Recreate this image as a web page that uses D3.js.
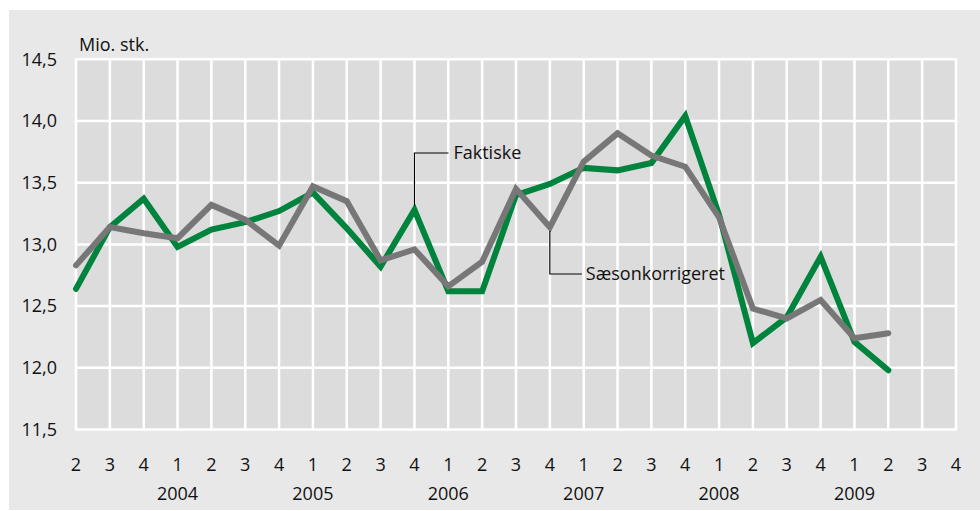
<!DOCTYPE html>
<html>
<head>
<meta charset="utf-8">
<script src="https://cdn.jsdelivr.net/npm/d3@7"></script>
<style>
  body { margin: 0; background: #fff; }
  svg text { font-family: "Open Sans", sans-serif; fill: #111; }
</style>
</head>
<body>
<svg id="chart"></svg>
<script>
const quarters = ["2","3","4","1","2","3","4","1","2","3","4","1","2","3","4","1","2","3","4","1","2","3","4","1","2","3","4"];
const years = ["2004","2005","2006","2007","2008","2009"];
const yTicks = [11.5, 12.0, 12.5, 13.0, 13.5, 14.0, 14.5];

const faktiske = [12.64, 13.14, 13.37, 12.98, 13.12, 13.18, 13.27, 13.42, 13.13, 12.82, 13.28, 12.62, 12.62,
  13.40, 13.49, 13.62, 13.60, 13.66, 14.04, 13.24, 12.20, 12.41, 12.90, 12.21, 11.98];
const saeson = [12.83, 13.14, 13.09, 13.05, 13.32, 13.20, 12.99, 13.47, 13.35, 12.87, 12.96, 12.66, 12.86,
  13.45, 13.14, 13.67, 13.90, 13.72, 13.63, 13.22, 12.48, 12.40, 12.55, 12.24, 12.28];

const width = 980, height = 511;
const fs = 18;
const svg = d3.select("#chart").attr("width", width).attr("height", height);

const x = d3.scaleLinear().domain([0, quarters.length - 1]).range([76, 956]);
const y = d3.scaleLinear().domain([11.5, 14.5]).range([429.5, 59.3]);

// panel background
svg.append("rect")
  .attr("x", 9).attr("y", 10)
  .attr("width", width - 9).attr("height", 500)
  .attr("fill", "#e8e8e8");

svg.append("rect")
  .attr("x", x(0)).attr("y", y(14.5))
  .attr("width", x(quarters.length - 1) - x(0))
  .attr("height", y(11.5) - y(14.5))
  .attr("fill", "#dcdcdc");

// grid
svg.append("g")
  .selectAll("line")
  .data(yTicks)
  .join("line")
  .attr("x1", x(0) - 1).attr("x2", x(quarters.length - 1) + 1)
  .attr("y1", d => y(d)).attr("y2", d => y(d))
  .attr("stroke", "#fff")
  .attr("stroke-width", 2.5);

svg.append("g")
  .selectAll("line")
  .data(d3.range(quarters.length))
  .join("line")
  .attr("x1", d => x(d)).attr("x2", d => x(d))
  .attr("y1", y(14.5)).attr("y2", y(11.5))
  .attr("stroke", "#fff")
  .attr("stroke-width", 2.5);

// y labels
svg.append("g")
  .selectAll("text")
  .data(yTicks)
  .join("text")
  .attr("x", 57)
  .attr("y", d => y(d))
  .attr("dy", "0.35em")
  .attr("text-anchor", "end")
  .attr("font-size", fs)
  .text(d => d3.format(".1f")(d).replace(".", ","));

svg.append("text")
  .attr("x", 79).attr("y", 51)
  .attr("font-size", fs)
  .text("Mio. stk.");

// x labels
svg.append("g")
  .selectAll("text")
  .data(quarters)
  .join("text")
  .attr("x", (d, i) => x(i))
  .attr("y", 471)
  .attr("text-anchor", "middle")
  .attr("font-size", fs)
  .text(d => d);

svg.append("g")
  .selectAll("text")
  .data(years)
  .join("text")
  .attr("x", (d, i) => x(3 + i * 4))
  .attr("y", 500)
  .attr("text-anchor", "middle")
  .attr("font-size", fs)
  .text(d => d);

// lines
const line = d3.line()
  .x((d, i) => x(i))
  .y(d => y(d));

svg.append("path")
  .datum(faktiske)
  .attr("d", line)
  .attr("fill", "none")
  .attr("stroke", "#00843d")
  .attr("stroke-width", 6)
  .attr("stroke-linecap", "round")
  .attr("stroke-linejoin", "miter");

svg.append("path")
  .datum(saeson)
  .attr("d", line)
  .attr("fill", "none")
  .attr("stroke", "#777777")
  .attr("stroke-width", 6)
  .attr("stroke-linecap", "round")
  .attr("stroke-linejoin", "miter");

// annotations
const fi = 10, si = 14;
svg.append("polyline")
  .attr("points", [[x(fi), y(faktiske[fi]) - 4], [x(fi), 153], [x(fi) + 34, 153]].join(" "))
  .attr("fill", "none").attr("stroke", "#000").attr("stroke-width", 1.2);
svg.append("text")
  .attr("x", x(fi) + 39).attr("y", 153)
  .attr("dy", "0.35em")
  .attr("font-size", fs)
  .text("Faktiske");

svg.append("polyline")
  .attr("points", [[x(si), y(saeson[si]) + 4], [x(si), 274], [x(si) + 32, 274]].join(" "))
  .attr("fill", "none").attr("stroke", "#000").attr("stroke-width", 1.2);
svg.append("text")
  .attr("x", x(si) + 36).attr("y", 274)
  .attr("dy", "0.35em")
  .attr("font-size", fs)
  .text("Sæsonkorrigeret");
</script>
</body>
</html>
